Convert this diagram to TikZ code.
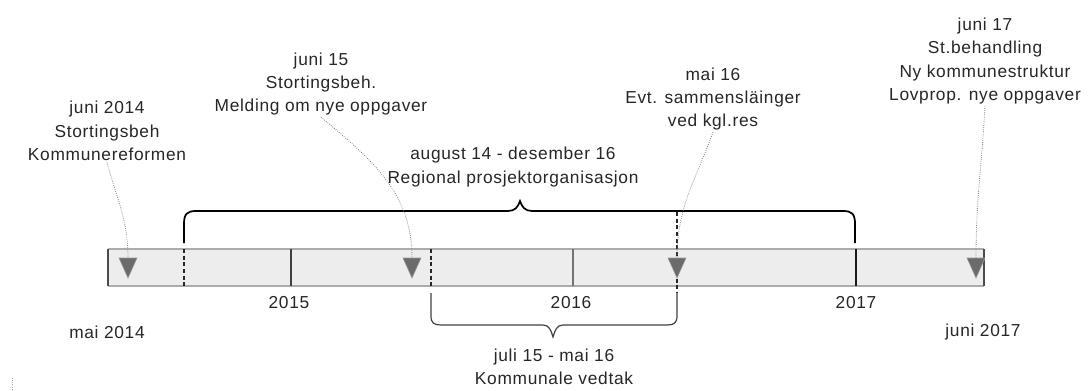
\documentclass[tikz,border=0pt]{standalone}
\usepackage{fontspec}
\setmainfont{Liberation Sans}[LetterSpace=4]
\begin{document}
\begin{tikzpicture}[x=0.75pt,y=-0.75pt,
  lbl/.style={align=center, font=\fontsize{13pt}{17.6pt}\selectfont, inner sep=1pt, text=black!85},
  conn/.style={gray, densely dotted, line width=0.6pt},
  topbrace/.style={black, line width=1.3pt},
  botbrace/.style={black!75, line width=0.9pt},
  marker/.style={fill=black!58, draw=black!40, line width=0.4pt},
  yeardiv/.style={black!75, line width=0.9pt},
  monthdiv/.style={black!85, densely dashed, line width=0.9pt}]
\useasboundingbox (0,0) rectangle (1088,390);

% bar
\fill[gray!14] (108,249) rectangle (984,286);
\draw[gray!65, line width=0.8pt] (108,249) -- (984,249);
\draw[gray!65, line width=0.8pt] (108,286) -- (984,286);
\draw[black!70, line width=0.9pt] (108,249) -- (108,286);
\draw[black!70, line width=0.9pt] (984,249) -- (984,286);

% dividers
\draw[monthdiv] (184,249) -- (184,286);
\draw[yeardiv] (291,249) -- (291,286);
\draw[monthdiv] (431,249) -- (431,288);
\draw[yeardiv, black!55] (573,249) -- (573,286);
\draw[monthdiv] (677,212) -- (677,293);
\draw[yeardiv, black!90] (856,249) -- (856,286);

% markers
\coordinate (m1) at (128,258);
\coordinate (m2) at (412,258);
\coordinate (m3) at (677,258);
\coordinate (m4) at (976,258);
\foreach \m in {m1,m2,m3,m4}{
  \fill[marker] ([xshift=-6.75pt]\m) -- ([xshift=6.75pt]\m) -- ([yshift=-15pt]\m) -- cycle;
}

% braces
\draw[topbrace] (184,243) -- (184,224) .. controls (184,214) and (187,211) .. (196,211)
  -- (508,211) .. controls (515,211) and (518,207) .. (520,201)
  .. controls (522,207) and (525,211) .. (532,211)
  -- (843,211) .. controls (852,211) and (855,214) .. (855,224) -- (855,243);
\draw[botbrace] (431,293) -- (431,316) .. controls (431,323) and (434,325) .. (441,325)
  -- (543,325) .. controls (549,325) and (551,330) .. (553,337)
  .. controls (555,330) and (557,325) .. (563,325)
  -- (667,325) .. controls (674,325) and (677,323) .. (677,316) -- (677,293);

% labels
\node[lbl] (t1) at (107,131) {juni 2014\\Stortingsbeh\\Kommunereformen};
\node[lbl] (t2) at (321,84) {juni 15\\Stortingsbeh.\\Melding om nye oppgaver};
\node[lbl] (t3) at (713,99) {mai 16\\Evt. sammensläinger\\ved kgl.res};
\node[lbl] (t4) at (985,61) {juni 17\\St.behandling\\Ny kommunestruktur\\Lovprop. nye oppgaver};
\node[lbl] (tb) at (513,167) {august 14 - desember 16\\Regional prosjektorganisasjon};
\node[lbl] (bb) at (554,367) {juli 15 - mai 16\\Kommunale vedtak};
\node[lbl] (y15) at (289,303) {2015};
\node[lbl] (y16) at (571,303) {2016};
\node[lbl] (y17) at (856,303) {2017};
\node[lbl] (start) at (107,332) {mai 2014};
\node[lbl] (end) at (983,332) {juni 2017};

% connectors
\draw[conn] (t1.south) to[out=-75,in=90] (m1);
\draw[conn] (t2.south) to[out=-40,in=90] (m2);
\draw[conn] (t3.south) to[out=-110,in=90] (m3);
\draw[conn] (t4.south) to[out=-93,in=90] (m4);

% small scan mark
\coordinate (s1) at (12,378);
\coordinate (s2) at (12,390);
\draw[conn, gray!70] (s1) -- (s2);
\end{tikzpicture}
\end{document}
